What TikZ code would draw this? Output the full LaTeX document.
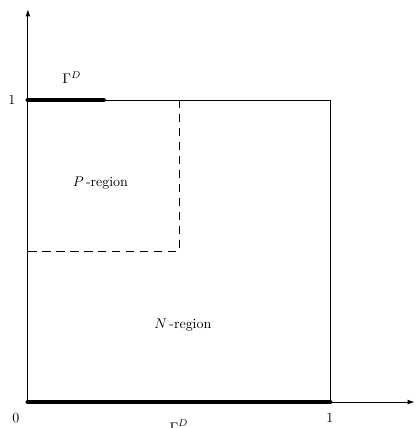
\documentclass[tikz,border=0pt]{standalone}
\usetikzlibrary{arrows.meta}
\begin{document}
\begin{tikzpicture}[x=7.6cm,y=7.6cm,
  thinline/.style={line width=0.6pt},
  axisline/.style={line width=0.6pt,-{Latex[length=5pt,width=3.5pt]}},
  bdry/.style={line width=3.5pt,line cap=round},
  dashline/.style={line width=0.6pt,dash pattern=on 6pt off 4pt}]
\useasboundingbox (-0.0924,-0.086) rectangle (1.284,1.331);
\coordinate (O) at (0,0);
\coordinate (X) at (1.28,0);
\coordinate (Y) at (0,1.3);
\coordinate (A) at (1,0);
\coordinate (B) at (1,1);
\coordinate (C) at (0,1);
\coordinate (G) at (0.25,1);
\coordinate (D1) at (0.5,1);
\coordinate (D2) at (0.5,0.5);
\coordinate (D3) at (0,0.5);
\draw[axisline] (O) -- (X);
\draw[axisline] (O) -- (Y);
\draw[thinline] (A) -- (B) -- (C);
\draw[dashline] (D1) -- (D2) -- (D3);
\draw[bdry] (O) -- (A);
\draw[bdry] (C) -- (G);
\node (l0) at (-0.04,-0.053) {0};
\node (l1x) at (1,-0.053) {1};
\node (l1y) at (-0.053,1) {1};
\node (g1) at (0.145,1.073) {$\Gamma^D$};
\node (g2) at (0.5,-0.08) {$\Gamma^D$};
\node (P) at (0.24,0.725) {$P$\,-region};
\node (N) at (0.513,0.255) {$N$\,-region};
\end{tikzpicture}
\end{document}
